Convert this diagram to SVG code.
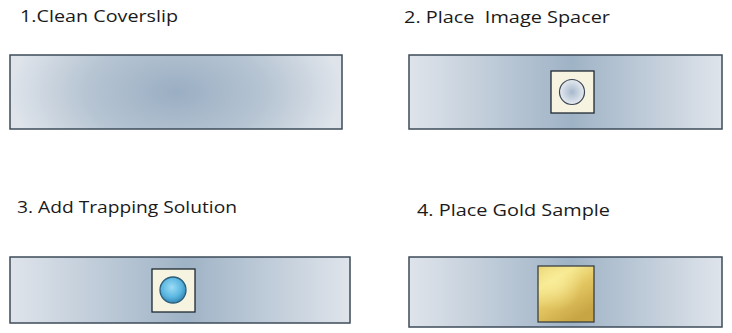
<svg xmlns="http://www.w3.org/2000/svg" width="732" height="333" viewBox="0 0 732 333">
<defs>
<radialGradient id="g1" cx="0.5" cy="0.5" r="0.5" gradientTransform="translate(0.5 0.5) scale(1 2.6) translate(-0.5 -0.5)">
<stop offset="0" stop-color="#9aaec3"/>
<stop offset="0.55" stop-color="#b7c5d3"/>
<stop offset="1" stop-color="#dfe4eb"/>
</radialGradient>
<linearGradient id="gl" x1="0" y1="0" x2="1" y2="0">
<stop offset="0" stop-color="#dfe4eb"/>
<stop offset="0.52" stop-color="#9fb3c6"/>
<stop offset="1" stop-color="#dfe4eb"/>
</linearGradient>
<radialGradient id="gc" cx="0.5" cy="0.5" r="0.5">
<stop offset="0" stop-color="#a6b8cd"/>
<stop offset="1" stop-color="#e6eaf0"/>
</radialGradient>
<radialGradient id="gb" cx="0.45" cy="0.4" r="0.55">
<stop offset="0" stop-color="#9cdcf6"/>
<stop offset="0.7" stop-color="#5ab6e0"/>
<stop offset="1" stop-color="#3d93c0"/>
</radialGradient>
<linearGradient id="gg" x1="0" y1="0" x2="0.6" y2="1">
<stop offset="0" stop-color="#e8cf6a"/>
<stop offset="0.3" stop-color="#f6e88e"/>
<stop offset="0.6" stop-color="#e2c560"/>
<stop offset="1" stop-color="#c7a444"/>
</linearGradient>
<radialGradient id="gh" cx="0.3" cy="0.3" r="0.5">
<stop offset="0" stop-color="#fbf0a0" stop-opacity="0.7"/>
<stop offset="1" stop-color="#fbf0a0" stop-opacity="0"/>
</radialGradient>
</defs>
<style>
.lbl{font-family:"Open Sans","Noto Sans","Liberation Sans",sans-serif;font-size:17px;fill:#1a1a1a}
.slip{stroke:#3d4b5a;stroke-width:1.5}
.spacer{fill:#f6f4e1;stroke:#1e2830;stroke-width:1.3}
</style>
<g id="step1">
<text class="lbl" x="20" y="22" textLength="158" lengthAdjust="spacingAndGlyphs">1.Clean Coverslip</text>
<rect class="slip" x="10" y="55" width="332" height="74" fill="url(#g1)"/>
</g>
<g id="step2">
<text class="lbl" x="404" y="23" textLength="206" lengthAdjust="spacingAndGlyphs" xml:space="preserve">2. Place  Image Spacer</text>
<rect class="slip" x="409" y="55" width="313" height="74" fill="url(#gl)"/>
<rect class="spacer" x="551" y="71" width="43" height="42"/>
<circle cx="572" cy="92" r="12.5" fill="url(#gc)" stroke="#3a4654" stroke-width="1.2"/>
</g>
<g id="step3">
<text class="lbl" x="17" y="213" textLength="220" lengthAdjust="spacingAndGlyphs">3. Add Trapping Solution</text>
<rect class="slip" x="10" y="257" width="340" height="66" fill="url(#gl)"/>
<rect class="spacer" x="152" y="269" width="43" height="43"/>
<circle cx="173" cy="290" r="13" fill="url(#gb)" stroke="#2c5c78" stroke-width="1.3"/>
</g>
<g id="step4">
<text class="lbl" x="417" y="216" textLength="193" lengthAdjust="spacingAndGlyphs">4. Place Gold Sample</text>
<rect class="slip" x="409" y="257" width="313" height="70" fill="url(#gl)"/>
<rect x="538" y="266" width="56" height="56" fill="url(#gg)"/>
<rect x="538" y="266" width="56" height="56" fill="url(#gh)" stroke="#3a4040" stroke-width="1.3"/>
</g>
</svg>
